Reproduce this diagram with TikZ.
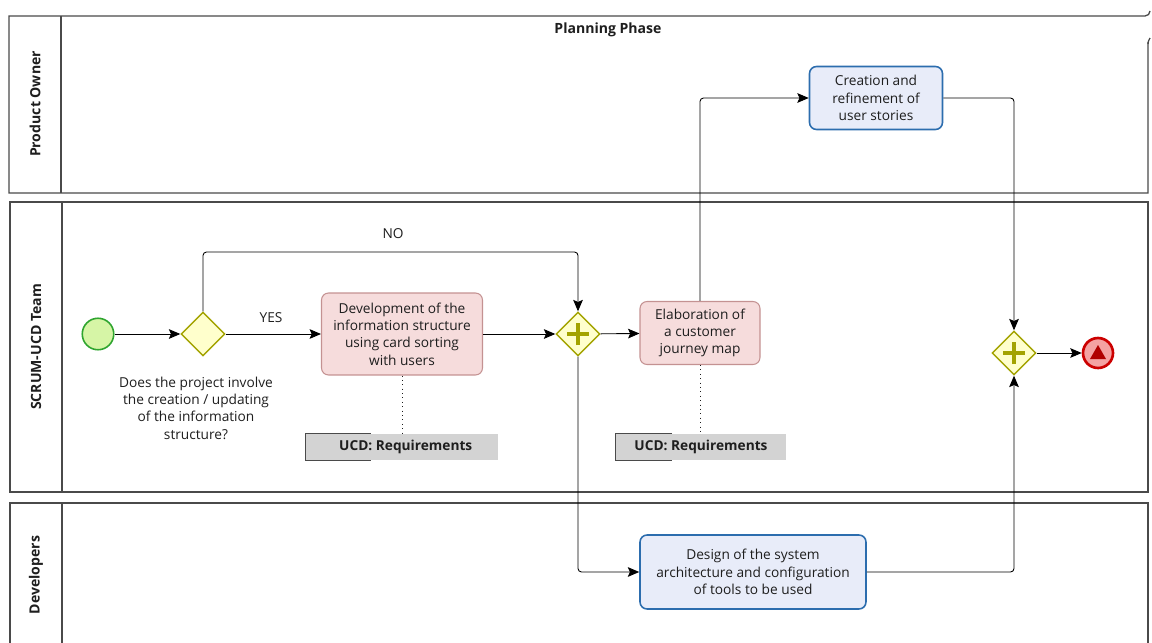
\documentclass[tikz,border=0pt]{standalone}
\usepackage{fontspec}
\setmainfont{Open Sans}
\usetikzlibrary{shapes.geometric,arrows.meta}

\definecolor{laneline}{HTML}{4A4A4A}
\definecolor{txt}{HTML}{1E1E1E}
\definecolor{startfill}{HTML}{D6F5A6}
\definecolor{startline}{HTML}{2FA52F}
\definecolor{gwfill}{HTML}{FFFFCC}
\definecolor{gwline}{HTML}{A3A300}
\definecolor{pinkfill}{HTML}{F6DCDC}
\definecolor{pinkline}{HTML}{C49292}
\definecolor{bluefill}{HTML}{E8ECF9}
\definecolor{blueline}{HTML}{2C6DAE}
\definecolor{endfill}{HTML}{F4A2A2}
\definecolor{endline}{HTML}{CC0000}
\definecolor{endmark}{HTML}{B00000}
\definecolor{annfill}{HTML}{D3D3D3}

\tikzset{
  lane/.style={draw=laneline, line width=0.75pt},
  lanelabel/.style={rotate=90, font=\fontsize{8}{10}\selectfont\bfseries, text=txt},
  body/.style={font=\fontsize{7.8}{9.9}\selectfont, text=txt, align=center},
  pinktask/.style={body, draw=pinkline, fill=pinkfill, line width=0.6pt,
    rounded corners=4pt, inner sep=0pt},
  bluetask/.style={body, draw=blueline, fill=bluefill, line width=0.9pt,
    rounded corners=4pt, inner sep=0pt},
  gateway/.style={diamond, draw=gwline, fill=gwfill, line width=0.8pt,
    minimum size=0.88cm, inner sep=0pt},
  plusbar/.style={draw=gwline, line width=2.6pt},
  flow/.style={draw=black, line width=0.5pt, rounded corners=2pt,
    -{Stealth[length=6.5pt,width=5.5pt,inset=1.2pt]}},
  annot/.style={fill=annfill, inner sep=0pt, minimum height=0.52cm,
    font=\fontsize{7.8}{9.9}\selectfont\bfseries, text=txt},
  assoc/.style={draw=txt, line width=0.5pt, dotted},
}

\begin{document}
\begin{tikzpicture}[x=0.02cm, y=-0.02cm]
  \useasboundingbox (0,0) rectangle (1152,642);
  \clip (0,0) rectangle (1152,642);

  % ---- swimlanes ----
  % Product Owner lane (top edge carries the pool's corner)
  \draw[lane] (1148,42) -- (1148,193) -- (9,193) -- (9,16) -- (1145,16)
    arc[start angle=90, end angle=0, radius=5];
  \draw[lane] (1150,38) to[out=-120, in=90] (1148,44);
  \draw[lane] (61,16) -- (61,193);
  % SCRUM-UCD Team lane
  \draw[lane] (10,202) rectangle (1148,492);
  \draw[lane] (62,202) -- (62,492);
  % Developers lane
  \draw[lane] (10,660) -- (10,503) -- (1148,503) -- (1148,660);
  \draw[lane] (62,503) -- (62,660);

  \node[lanelabel] (lbl1) at (35,104) {Product Owner};
  \node[lanelabel] (lbl2) at (36,347) {SCRUM-UCD Team};
  \node[lanelabel] (lbl3) at (36,575) {Developers};
  \node[font=\fontsize{8}{10}\selectfont\bfseries, text=txt] (phase) at (608,30) {Planning Phase};

  % ---- events and gateways ----
  \node[circle, draw=startline, fill=startfill, line width=0.9pt,
        minimum size=0.63cm, inner sep=0pt] (start) at (98,334) {};
  \node[gateway] (gw1) at (203,334) {};
  \node[body] (question) at (196,408)
    {Does the project involve\\the creation / updating\\of the information\\structure?};

  \node[gateway] (pg1) at (578,334) {};
  \draw[plusbar] ([yshift=-0.22cm]pg1.center) -- ([yshift=0.22cm]pg1.center);
  \draw[plusbar] ([xshift=-0.22cm]pg1.center) -- ([xshift=0.22cm]pg1.center);

  \node[gateway] (pg2) at (1014,353) {};
  \draw[plusbar] ([yshift=-0.22cm]pg2.center) -- ([yshift=0.22cm]pg2.center);
  \draw[plusbar] ([xshift=-0.22cm]pg2.center) -- ([xshift=0.22cm]pg2.center);

  \node[circle, draw=endline, fill=endfill, line width=1.5pt,
        minimum size=0.6cm, inner sep=0pt] (endev) at (1098,353) {};
  \fill[endmark] ([xshift=-0.16cm,yshift=-0.12cm]endev.center)
    -- ([xshift=0.16cm,yshift=-0.12cm]endev.center)
    -- ([yshift=0.16cm]endev.center) -- cycle;

  % ---- tasks ----
  \node[pinktask, minimum width=3.22cm, minimum height=1.64cm] (t1) at (402,334)
    {Development of the\\information structure\\using card sorting\\with users};
  \node[pinktask, minimum width=2.4cm, minimum height=1.26cm] (t2) at (700,333)
    {Elaboration of\\a customer\\journey map};
  \node[bluetask, minimum width=2.66cm, minimum height=1.26cm] (t3) at (876,98)
    {Creation and\\refinement of\\user stories};
  \node[bluetask, minimum width=4.52cm, minimum height=1.48cm] (t4) at (753,572)
    {Design of the system\\architecture and configuration\\of tools to be used};

  % ---- data annotations ----
  \node[annot, minimum width=3.84cm] (ann1) at (402,447) {\hspace{0.15cm}UCD: Requirements};
  \draw[draw=laneline, line width=0.6pt] ([xshift=1.3cm]ann1.north west) -- (ann1.north west)
    -- (ann1.south west) -- ([xshift=1.3cm]ann1.south west);
  \node[annot, minimum width=3.42cm] (ann2) at (701,447) {UCD: Requirements};
  \draw[draw=laneline, line width=0.6pt] ([xshift=1.14cm]ann2.north west) -- (ann2.north west)
    -- (ann2.south west) -- ([xshift=1.14cm]ann2.south west);

  \draw[assoc] (t1.south) -- (t1.south |- ann1.north);
  \draw[assoc] (t2.south) -- (t2.south |- ann2.north);

  % ---- sequence flows ----
  \draw[flow] (start) -- (gw1);
  \draw[flow] (gw1) -- (t1);
  \node[body] (yes) at (271,318) {YES};
  \draw[flow] (gw1.north) -- (203,252) -| (pg1.north);
  \node[body] (no) at (393,234) {NO};
  \draw[flow] (t1) -- (pg1);
  \draw[flow] (pg1) -- (t2);
  \draw[flow] (t2.north) |- (t3.west);
  \draw[flow] (pg1.south) |- (t4.west);
  \draw[flow] (t3.east) -| (pg2.north);
  \draw[flow] (t4.east) -| (pg2.south);
  \draw[flow] (pg2) -- (endev);
\end{tikzpicture}
\end{document}
